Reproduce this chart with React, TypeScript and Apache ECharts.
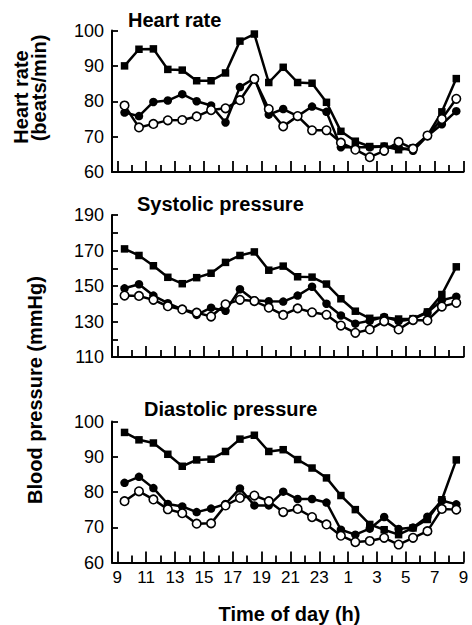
import React, { useEffect, useRef } from "react";
import * as echarts from "echarts";

// Time of each measurement (clock hours, continuing past midnight: 24.5 = 00:30 next day)
const hours = [9.5, 10.5, 11.5, 12.5, 13.5, 14.5, 15.5, 16.5, 17.5, 18.5, 19.5, 20.5, 21.5, 22.5, 23.5, 24.5, 25.5, 26.5, 27.5, 28.5, 29.5, 30.5, 31.5, 32.5];

// Heart rate (beats/min)
const heartSquares = [90, 94.7, 94.8, 89, 88.8, 85.8, 85.8, 88, 97, 99, 85.3, 89.6, 85.3, 85.1, 79.7, 71.5, 68.7, 67.2, 67.3, 66.3, 66.8, 70.3, 77, 86.4];
const heartFilled = [76.8, 75.8, 79.8, 80.2, 82, 80, 78.8, 74, 84, 86.5, 76.2, 77.8, 75.8, 78.5, 77, 67, 67, 67, 67.2, 67, 66, 70.2, 73.5, 77.2];
const heartOpen = [78.8, 72.6, 73.6, 74.6, 74.7, 75.7, 77.5, 78, 80.3, 86.3, 77.8, 72.9, 75.8, 71.8, 71.8, 68.3, 66.3, 64.2, 66, 68.5, 66.6, 70.3, 75, 80.7];

// Systolic pressure (mmHg)
const sysSquares = [170.9, 167.2, 161.4, 154.9, 151.3, 154.7, 157.2, 163.3, 167.2, 169.2, 158.9, 161.2, 155.2, 155, 151.1, 142.8, 135.8, 131.8, 132.2, 131.4, 131.6, 135.4, 145.2, 160.8];
const sysFilled = [148.7, 151, 144.6, 140.3, 136.8, 133.7, 137.8, 136, 148.2, 142, 141.4, 141.2, 144.6, 149.6, 140, 133.4, 128.8, 130.4, 132.6, 130.2, 131.4, 135, 142, 144];
const sysOpen = [144.6, 144.4, 142.2, 138.6, 136.8, 135, 132.8, 139.7, 142.2, 141.5, 137.8, 133.7, 137.4, 135.2, 133.8, 127.7, 123.6, 125.5, 130.1, 125.5, 130.8, 130.6, 138.4, 140.5];

// Diastolic pressure (mmHg)
const diaSquares = [96.9, 94.8, 93.9, 90.7, 87.3, 89.1, 89.3, 91.5, 95, 96.1, 91.5, 92, 89.2, 86.8, 84, 79, 75, 70.8, 69.3, 67.9, 69.8, 72.2, 77.8, 89.1];
const diaFilled = [82.6, 84.3, 81.1, 76.6, 75.9, 74.3, 75.3, 76.6, 81, 76.2, 76.2, 80.1, 78, 78, 77, 69.3, 67.9, 69.6, 72.9, 69.5, 69.9, 73, 77.6, 76.5];
const diaOpen = [77.4, 80.2, 77.9, 75.1, 74, 71, 71.1, 76.2, 78.3, 79, 77.4, 74.3, 75.2, 72.9, 70.8, 67.6, 65.8, 66.1, 67, 65.1, 67, 68.9, 75.2, 75];

// Axis ticks / labels
const xLongTicks = [9, 11, 13, 15, 17, 19, 21, 23, 25, 27, 29, 31, 33];
const xShortTicks = [10, 12, 14, 16, 18, 20, 22, 24, 26, 28, 30, 32];
const xMax = 33;
const heartRange = [60, 100];
const sysRange = [110, 190];
const diaRange = [60, 100];

const panelTitles = ["Heart rate", "Systolic pressure", "Diastolic pressure"];

const FONT = '"Liberation Sans", Arial, Helvetica, sans-serif';
const BLACK = "#000";

export default function App() {
  const ref = useRef<HTMLDivElement>(null);

  useEffect(() => {
    if (!ref.current) return;
    const chart = echarts.init(ref.current, undefined, { renderer: "svg" });

    const grids = [
      { left: 112, top: 30.5, width: 351.5, height: 141.5 },
      { left: 112, top: 215, width: 351.5, height: 142 },
      { left: 112, top: 421.5, width: 351.5, height: 141 },
    ];
    const xMin = 8.63;

    const xAxes: any[] = [];
    grids.forEach((_, i) => {
      const showLabels = i === 2;
      xAxes.push({
        type: "value",
        gridIndex: i,
        min: xMin,
        max: xMax,
        position: "bottom",
        axisLine: { show: true, lineStyle: { color: BLACK, width: 2 } },
        axisTick: {
          show: true,
          inside: true,
          length: 11,
          lineStyle: { color: BLACK, width: 1.8 },
          customValues: xLongTicks,
        },
        axisLabel: {
          show: showLabels,
          customValues: xLongTicks,
          margin: 6,
          color: BLACK,
          fontFamily: FONT,
          fontSize: 17,
          formatter: (v: number) => String(v > 24 ? v - 24 : v),
        },
        splitLine: { show: false },
      });
      xAxes.push({
        type: "value",
        gridIndex: i,
        min: xMin,
        max: xMax,
        position: "bottom",
        axisLine: { show: false },
        axisTick: {
          show: true,
          inside: true,
          length: 7,
          lineStyle: { color: BLACK, width: 1.8 },
          customValues: xShortTicks,
        },
        axisLabel: { show: false },
        splitLine: { show: false },
      });
    });

    const yBase = {
      type: "value",
      axisLine: { show: true, lineStyle: { color: BLACK, width: 2 } },
      axisTick: { show: true, inside: true, length: 6, lineStyle: { color: BLACK, width: 1.8 } },
      splitLine: { show: false },
    };
    const yLabel = {
      margin: 8,
      color: BLACK,
      fontFamily: FONT,
      fontSize: 18,
    };
    const yAxes = [
      { ...yBase, gridIndex: 0, min: heartRange[0], max: heartRange[1], interval: 10, axisLabel: yLabel },
      {
        ...yBase,
        gridIndex: 1,
        min: sysRange[0],
        max: sysRange[1],
        interval: 10,
        axisLabel: {
          ...yLabel,
          formatter: (v: number) => ((v - sysRange[0]) % 20 === 0 ? String(v) : ""),
        },
      },
      { ...yBase, gridIndex: 2, min: diaRange[0], max: diaRange[1], interval: 10, axisLabel: yLabel },
    ];

    const lineStyle = { color: BLACK, width: 2.5 };
    const mk = (values: number[], kind: "sq" | "fill" | "open", panel: number) => ({
      type: "line",
      xAxisIndex: panel * 2,
      yAxisIndex: panel,
      data: hours.map((h, k) => [h, values[k]]),
      symbol: kind === "sq" ? "rect" : "circle",
      symbolSize: kind === "sq" ? 7.5 : 8.5,
      showAllSymbol: true,
      lineStyle,
      itemStyle:
        kind === "open"
          ? { color: "#fff", borderColor: BLACK, borderWidth: 1.6 }
          : { color: BLACK, borderColor: BLACK, borderWidth: 0 },
      z: kind === "open" ? 4 : kind === "fill" ? 3 : 2,
      clip: false,
    });

    const series = [
      mk(heartSquares, "sq", 0),
      mk(heartFilled, "fill", 0),
      mk(heartOpen, "open", 0),
      mk(sysSquares, "sq", 1),
      mk(sysFilled, "fill", 1),
      mk(sysOpen, "open", 1),
      mk(diaSquares, "sq", 2),
      mk(diaFilled, "fill", 2),
      mk(diaOpen, "open", 2),
    ];

    const titleFont = `bold 20px ${FONT}`;
    const graphic = [
      { type: "text", x: 128, y: 20, style: { text: panelTitles[0], font: titleFont, fill: BLACK, align: "left", verticalAlign: "middle" } },
      { type: "text", x: 137, y: 203.5, style: { text: panelTitles[1], font: titleFont, fill: BLACK, align: "left", verticalAlign: "middle" } },
      { type: "text", x: 144, y: 409, style: { text: panelTitles[2], font: titleFont, fill: BLACK, align: "left", verticalAlign: "middle" } },
      { type: "text", x: 21, y: 97, rotation: Math.PI / 2, style: { text: "Heart rate", font: titleFont, fill: BLACK, align: "center", verticalAlign: "middle" } },
      { type: "text", x: 39, y: 88, rotation: Math.PI / 2, style: { text: "(beats/min)", font: titleFont, fill: BLACK, align: "center", verticalAlign: "middle" } },
      { type: "text", x: 35, y: 390, rotation: Math.PI / 2, style: { text: "Blood pressure (mmHg)", font: titleFont, fill: BLACK, align: "center", verticalAlign: "middle" } },
      { type: "text", x: 289.5, y: 614, style: { text: "Time of day (h)", font: titleFont, fill: BLACK, align: "center", verticalAlign: "middle" } },
    ];

    chart.setOption({
      animation: false,
      backgroundColor: "#fff",
      grid: grids.map((g) => ({ ...g, containLabel: false })),
      xAxis: xAxes,
      yAxis: yAxes,
      series,
      graphic,
    } as any);

    return () => chart.dispose();
  }, []);

  return (
    <div
      ref={ref}
      style={{ position: "absolute", left: 0, top: 0, width: 472, height: 625, background: "#fff" }}
    />
  );
}
